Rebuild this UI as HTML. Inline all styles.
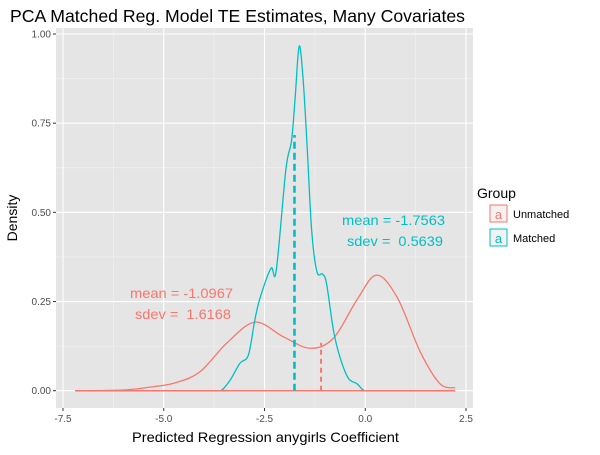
<!DOCTYPE html>
<html><head><meta charset="utf-8"><style>
body{margin:0;background:#fff;}
svg text{font-family:"Liberation Sans",Arial,sans-serif;}
</style></head><body>
<svg id="chart" width="600" height="450" xmlns="http://www.w3.org/2000/svg">
<text x="10" y="22" font-size="17.5" textLength="455" lengthAdjust="spacingAndGlyphs" fill="#000">PCA Matched Reg. Model TE Estimates, Many Covariates</text>
<rect x="56" y="28" width="417" height="380" fill="#E5E5E5"/>
<g id="grid"></g>
<g id="series"></g>
<g id="axes"></g>
<text x="17" y="218" font-size="14" transform="rotate(-90 17 218)" text-anchor="middle">Density</text>
<text x="132" y="442" font-size="14" textLength="267" lengthAdjust="spacingAndGlyphs">Predicted Regression anygirls Coefficient</text>
<text x="342" y="225" font-size="14" textLength="103" lengthAdjust="spacingAndGlyphs" fill="#00BFC4">mean = -1.7563</text>
<text x="347" y="246" font-size="14" textLength="96" lengthAdjust="spacingAndGlyphs" fill="#00BFC4" xml:space="preserve">sdev =  0.5639</text>
<text x="130" y="298" font-size="14" textLength="103" lengthAdjust="spacingAndGlyphs" fill="#F8766D">mean = -1.0967</text>
<text x="135" y="319" font-size="14" textLength="96" lengthAdjust="spacingAndGlyphs" fill="#F8766D" xml:space="preserve">sdev =  1.6168</text>
<g>
<text x="477" y="198" font-size="14">Group</text>
<g>
<rect x="490" y="205" width="17" height="17" fill="#F2F2F2" stroke="#F8766D" stroke-width="1"/>
<text x="498.5" y="219" font-size="13" fill="#F8766D" text-anchor="middle">a</text>
<text x="513" y="218" font-size="11">Unmatched</text></g>
<g>
<rect x="490" y="229" width="17" height="17" fill="#F2F2F2" stroke="#00BFC4" stroke-width="1"/>
<text x="498.5" y="243" font-size="13" fill="#00BFC4" text-anchor="middle">a</text>
<text x="513" y="242" font-size="11">Matched</text></g>
</g>
</svg>
<script>
const xTicks=[-7.5,-5.0,-2.5,0.0,2.5];
const xTickLabels=["-7.5","-5.0","-2.5","0.0","2.5"];
const yTicks=[0,0.25,0.5,0.75,1.0];
const yTickLabels=["0.00","0.25","0.50","0.75","1.00"];
const unmatchedX=[-7.2,-6.0,-5.34,-4.72,-4.1,-3.44,-2.74,-2.03,-1.37,-0.79,-0.21,0.28,0.8,1.36,1.85,2.23];
const unmatchedY=[0,0.002,0.01,0.022,0.053,0.133,0.192,0.151,0.119,0.147,0.254,0.324,0.26,0.11,0.02,0.008];
const matchedX=[-7.2,-3.7,-3.56,-3.35,-3.11,-2.9,-2.74,-2.61,-2.34,-2.21,-1.97,-1.83,-1.74,-1.64,-1.54,-1.44,-1.33,-1.2,-1.06,-0.96,-0.79,-0.63,-0.42,-0.21,-0.05,0.1,2.23];
const matchedY=[0,0,0.002,0.03,0.077,0.1,0.198,0.26,0.343,0.336,0.62,0.70,0.82,0.966,0.87,0.68,0.45,0.334,0.327,0.30,0.17,0.095,0.035,0.02,0.002,0,0];
const means=[-1.0967,-1.7563];
const meanHeights=[0.134,0.717];
const colors=["#F8766D","#00BFC4"];
const NS="http://www.w3.org/2000/svg";
const X=v=>63+40.3*(v+7.5);
const Y=v=>390.7-356.7*v;
const L=56,R=473,T=28,B=408;
function mk(tag,attrs,parent){const e=document.createElementNS(NS,tag);for(const k in attrs)e.setAttribute(k,attrs[k]);parent.appendChild(e);return e;}
const grid=document.getElementById('grid'),axes=document.getElementById('axes'),ser=document.getElementById('series');
for(let i=0;i<yTicks.length;i++){
 const y=Y(yTicks[i]);
 const g=mk('line',{x1:L,x2:R,y1:y,y2:y,stroke:'#fff','stroke-width':1.1},grid);
 
 
 if(i<yTicks.length-1){const ym=Y((yTicks[i]+yTicks[i+1])/2);const m=mk('line',{x1:L,x2:R,y1:ym,y2:ym,stroke:'#F2F2F2','stroke-width':0.6},grid);
 
 }
 mk('line',{x1:L-3,x2:L,y1:y,y2:y,stroke:'#333'},axes);
 const t=mk('text',{x:L-5,y:y+3.5,'font-size':10,'text-anchor':'end',fill:'#4D4D4D'},axes);t.textContent=yTickLabels[i];
 
 
}
for(let i=0;i<xTicks.length;i++){
 const x=X(xTicks[i]);
 const g=mk('line',{x1:x,x2:x,y1:T,y2:B,stroke:'#fff','stroke-width':1.1},grid);
 
 
 if(i<xTicks.length-1){const xm=X((xTicks[i]+xTicks[i+1])/2);const m=mk('line',{x1:xm,x2:xm,y1:T,y2:B,stroke:'#F2F2F2','stroke-width':0.6},grid);
 
 }
 mk('line',{x1:x,x2:x,y1:B,y2:B+3,stroke:'#333'},axes);
 const t=mk('text',{x:x,y:B+14,'font-size':10,'text-anchor':'middle',fill:'#4D4D4D'},axes);t.textContent=xTickLabels[i];
 
 
}
function smoothPath(xs,ys){
 const p=xs.map((x,i)=>[X(x),Y(ys[i])]);
 let d='M'+p[0][0]+','+p[0][1];
 for(let i=0;i<p.length-1;i++){
  const p0=p[i-1]||p[i],p1=p[i],p2=p[i+1],p3=p[i+2]||p2;
  let c1y=p1[1]+(p2[1]-p0[1])/6,c2y=p2[1]-(p3[1]-p1[1])/6;
  c1y=Math.min(c1y,Y(0));c2y=Math.min(c2y,Y(0));
  d+=' C'+(p1[0]+(p2[0]-p0[0])/6)+','+c1y+' '+(p2[0]-(p3[0]-p1[0])/6)+','+c2y+' '+p2[0]+','+p2[1];
 }
 return d;
}
const s1=mk('path',{d:smoothPath(unmatchedX,unmatchedY),fill:'none',stroke:colors[0],'stroke-width':1.3},ser);


const s2=mk('path',{d:smoothPath(matchedX,matchedY),fill:'none',stroke:colors[1],'stroke-width':1.3},ser);


const base=mk('line',{x1:X(-7.2),x2:X(2.23),y1:Y(0),y2:Y(0),stroke:colors[0],'stroke-width':1.3},ser);


for(let i=0;i<means.length;i++){
 const m=mk('line',{x1:X(means[i]),x2:X(means[i]),y1:Y(0),y2:Y(meanHeights[i]),stroke:colors[i],'stroke-width':i?2.6:2,'stroke-dasharray':i?'7,4':'5,4'},ser);
 
 
}
</script>
</body></html>
